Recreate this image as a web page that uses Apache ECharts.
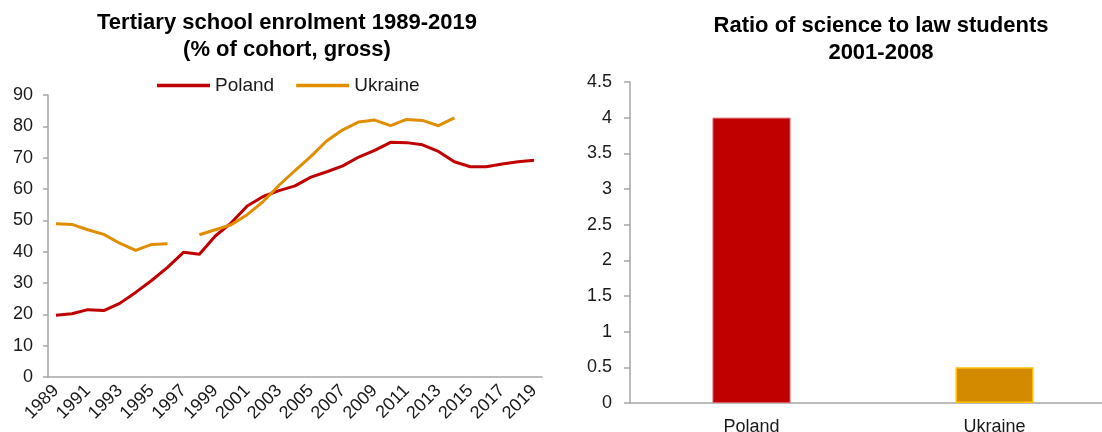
<!DOCTYPE html>
<html>
<head>
<meta charset="utf-8">
<script src="https://cdn.jsdelivr.net/npm/echarts@6/dist/echarts.min.js"></script>
<style>
  html, body { margin: 0; padding: 0; background: #fff; }
  #main { width: 1102px; height: 432px; }
</style>
</head>
<body>
<div id="main"></div>
<script>
// left chart: enrolment, % of cohort
const years = []
for (let y = 1989; y <= 2019; y++) years.push(String(y))

const polandEnrol = [19.7, 20.2, 21.5, 21.2, 23.5, 27.0, 30.8, 35.0, 39.8, 39.2,
  45.0, 49.2, 54.6, 57.6, 59.5, 61.0, 63.8, 65.5, 67.4, 70.2,
  72.3, 74.9, 74.8, 74.1, 72.0, 68.7, 67.1, 67.1, 68.0, 68.7, 69.2]

const ukraineEnrol = [48.9, 48.7, 47.0, 45.5, 42.7, 40.4, 42.3, 42.5, null, 45.4,
  47.0, 48.6, 51.8, 56.0, 61.2, 65.9, 70.4, 75.4, 78.9, 81.4,
  82.0, 80.2, 82.2, 81.9, 80.2, 82.7, null, null, null, null, null]

// right chart: science / law ratio
const countries = ['Poland', 'Ukraine']
const ratioValues = [4.0, 0.5]

const FONT = 'Liberation Sans, Arial, sans-serif'
const RED = '#C00000'
const ORANGE = '#E08E00'
const AXIS_GREY = '#A6A6A6'

let chart = echarts.init(document.getElementById('main'))

let option = {
  animation: false,
  textStyle: { fontFamily: FONT },
  title: [
    {
      text: 'Tertiary school enrolment 1989-2019\n(% of cohort, gross)',
      left: 282,
      top: 4,
      textAlign: 'center',
      textStyle: { fontFamily: FONT, fontSize: 22, fontWeight: 'bold', color: '#000', lineHeight: 27 }
    },
    {
      text: 'Ratio of science to law students\n2001-2008',
      left: 876,
      top: 7,
      textAlign: 'center',
      textStyle: { fontFamily: FONT, fontSize: 22, fontWeight: 'bold', color: '#000', lineHeight: 27 }
    }
  ],
  legend: {
    left: 152,
    top: 71,
    icon: 'rect',
    itemWidth: 53,
    itemHeight: 3.5,
    itemGap: 22,
    textStyle: { fontFamily: FONT, fontSize: 19, color: '#1a1a1a' },
    data: ['Poland', 'Ukraine']
  },
  grid: [
    { left: 48, top: 95, width: 494, height: 282, outerBoundsMode: 'none' },
    { left: 630, top: 82, width: 486, height: 321, outerBoundsMode: 'none' }
  ],
  xAxis: [
    {
      gridIndex: 0,
      type: 'category',
      data: years,
      boundaryGap: true,
      axisLine: { lineStyle: { color: AXIS_GREY, width: 1.5 } },
      axisTick: { show: false },
      axisLabel: { interval: 1, rotate: 45, margin: 11, fontSize: 18, color: '#1a1a1a', fontFamily: FONT }
    },
    {
      gridIndex: 1,
      type: 'category',
      data: countries,
      axisLine: { lineStyle: { color: AXIS_GREY, width: 1.5 } },
      axisTick: { show: false },
      axisLabel: { margin: 15, fontSize: 18, color: '#1a1a1a', fontFamily: FONT }
    }
  ],
  yAxis: [
    {
      gridIndex: 0,
      type: 'value',
      min: 0,
      max: 90,
      interval: 10,
      axisLine: { show: true, lineStyle: { color: AXIS_GREY, width: 1.5 } },
      axisTick: { show: true, length: 5, lineStyle: { color: AXIS_GREY, width: 1.5 } },
      splitLine: { show: false },
      axisLabel: { margin: 15, fontSize: 18, color: '#1a1a1a', fontFamily: FONT }
    },
    {
      gridIndex: 1,
      type: 'value',
      min: 0,
      max: 4.5,
      interval: 0.5,
      axisLine: { show: true, lineStyle: { color: AXIS_GREY, width: 1.5 } },
      axisTick: { show: true, length: 6, lineStyle: { color: AXIS_GREY, width: 1.5 } },
      splitLine: { show: false },
      axisLabel: { margin: 18, fontSize: 18, color: '#1a1a1a', fontFamily: FONT }
    }
  ],
  series: [
    {
      name: 'Poland',
      type: 'line',
      xAxisIndex: 0,
      yAxisIndex: 0,
      data: polandEnrol,
      showSymbol: false,
      symbol: 'none',
      lineStyle: { color: RED, width: 3 },
      itemStyle: { color: RED }
    },
    {
      name: 'Ukraine',
      type: 'line',
      xAxisIndex: 0,
      yAxisIndex: 0,
      data: ukraineEnrol,
      showSymbol: false,
      symbol: 'none',
      connectNulls: false,
      lineStyle: { color: ORANGE, width: 3 },
      itemStyle: { color: ORANGE }
    },
    {
      name: 'ratio',
      type: 'bar',
      xAxisIndex: 1,
      yAxisIndex: 1,
      barWidth: 78,
      data: [
        { value: ratioValues[0], itemStyle: { color: RED, borderColor: '#D65A5A', borderWidth: 1 } },
        { value: ratioValues[1], itemStyle: { color: '#D48A00', borderColor: '#FFC000', borderWidth: 1.5 } }
      ]
    }
  ]
}

chart.setOption(option)
</script>
</body>
</html>
